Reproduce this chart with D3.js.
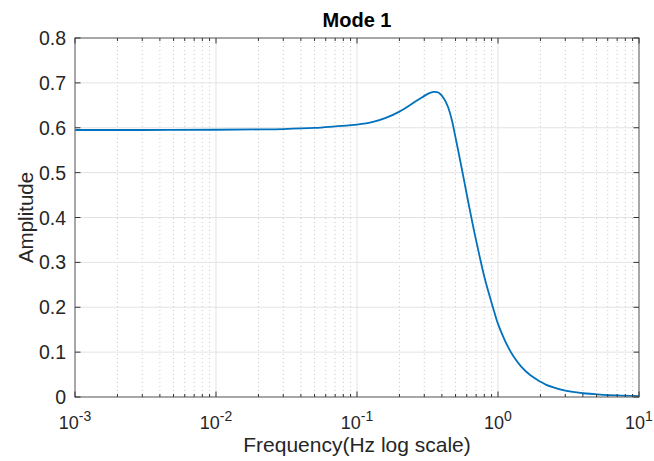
<!DOCTYPE html>
<html><head><meta charset="utf-8">
<script src="https://cdn.jsdelivr.net/npm/d3@7"></script>
<style>body{margin:0;background:#fff;} svg{display:block;font-family:"Liberation Sans",Arial,Helvetica,sans-serif;}</style>
</head><body>
<svg id="c" width="654" height="461"></svg>
<script>
const freq = [0.001,0.003,0.01,0.02,0.03,0.05,0.07,0.1,0.13,0.16,0.2,0.25,0.29,0.32,0.35,0.38,0.41,0.44,0.47,0.5,0.54,0.58,0.63,0.68,0.74,0.8,0.87,0.94,1.0,1.09,1.18,1.29,1.45,1.69,2.0,2.2,2.5,2.9,3.5,4.2,5.0,7.0,10];
const amp  = [0.595,0.595,0.5955,0.5962,0.597,0.5995,0.603,0.607,0.613,0.622,0.636,0.655,0.668,0.676,0.680,0.678,0.667,0.648,0.618,0.578,0.526,0.476,0.418,0.367,0.314,0.268,0.226,0.190,0.163,0.134,0.111,0.090,0.069,0.049,0.034,0.027,0.021,0.0155,0.011,0.0078,0.006,0.0035,0.002];
const yTicks = [0,0.1,0.2,0.3,0.4,0.5,0.6,0.7,0.8];
const xDecades = [-3,-2,-1,0,1];
const title = "Mode 1", xLabel = "Frequency(Hz log scale)", yLabel = "Amplitude";

const svg = d3.select("#c");
const L=75,R=639,T=38,B=397;
const x = d3.scaleLog().domain([1e-3,10]).range([L,R]);
const y = d3.scaleLinear().domain([0,0.8]).range([B,T]);
const txt="#262626";

const minors=[];
xDecades.slice(0,-1).forEach(d=>{for(let k=2;k<=9;k++) minors.push(k*Math.pow(10,d));});
const g=svg.append("g");
g.selectAll(".mg").data(minors).enter().append("line")
 .attr("x1",d=>x(d)).attr("x2",d=>x(d)).attr("y1",T).attr("y2",B)
 .attr("stroke","#c8c8c8").attr("stroke-width",1).attr("stroke-dasharray","1,3");
g.selectAll(".xg").data(xDecades.map(d=>Math.pow(10,d))).enter().append("line")
 .attr("x1",d=>x(d)).attr("x2",d=>x(d)).attr("y1",T).attr("y2",B)
 .attr("stroke","#e3e3e3").attr("stroke-width",1);
g.selectAll(".yg").data(yTicks).enter().append("line")
 .attr("x1",L).attr("x2",R).attr("y1",d=>y(d)).attr("y2",d=>y(d))
 .attr("stroke","#e3e3e3").attr("stroke-width",1);

const pts=freq.map((f,i)=>[f,amp[i]]);
svg.append("path").datum(pts)
 .attr("d",d3.line().x(d=>x(d[0])).y(d=>y(d[1])).curve(d3.curveCatmullRom.alpha(0.5)))
 .attr("fill","none").attr("stroke","#0072BD").attr("stroke-width",1.8);

svg.append("rect").attr("x",L).attr("y",T).attr("width",R-L).attr("height",B-T)
 .attr("fill","none").attr("stroke","#777").attr("stroke-width",1.2);

const tk=svg.append("g").attr("stroke","#333").attr("stroke-width",1);
const majorX=xDecades.map(d=>Math.pow(10,d));
[[B,-1],[T,1]].forEach(([yy,dir])=>{
  majorX.forEach(v=>tk.append("line").attr("x1",x(v)).attr("x2",x(v)).attr("y1",yy).attr("y2",yy+dir*5.5));
  minors.forEach(v=>tk.append("line").attr("x1",x(v)).attr("x2",x(v)).attr("y1",yy).attr("y2",yy+dir*3));
});
yTicks.forEach(v=>{
  tk.append("line").attr("x1",L).attr("x2",L+5.5).attr("y1",y(v)).attr("y2",y(v));
  tk.append("line").attr("x1",R).attr("x2",R-5.5).attr("y1",y(v)).attr("y2",y(v));
});

svg.selectAll(".yl").data(yTicks).enter().append("text")
 .attr("x",L-9).attr("y",d=>y(d)).attr("dy","0.36em").attr("text-anchor","end")
 .attr("font-size",19.5).attr("fill",txt).text(d=>d===0?"0":d3.format(".1f")(d));

xDecades.forEach(d=>{
  const t=svg.append("text").attr("x",x(Math.pow(10,d))).attr("y",429).attr("text-anchor","middle")
    .attr("font-size",18).attr("fill",txt);
  t.append("tspan").text("10");
  t.append("tspan").attr("dy",-8).attr("font-size",14).text(String(d));
});

svg.append("text").attr("x",(L+R)/2).attr("y",452).attr("text-anchor","middle")
 .attr("font-size",21).attr("fill",txt).text(xLabel);
svg.append("text").attr("transform",`translate(33,${(T+B)/2}) rotate(-90)`).attr("text-anchor","middle")
 .attr("font-size",20.5).attr("fill",txt).text(yLabel);
svg.append("text").attr("x",(L+R)/2).attr("y",27).attr("text-anchor","middle")
 .attr("font-size",20).attr("font-weight","bold").attr("fill","#000").text(title);
</script>
</body></html>
